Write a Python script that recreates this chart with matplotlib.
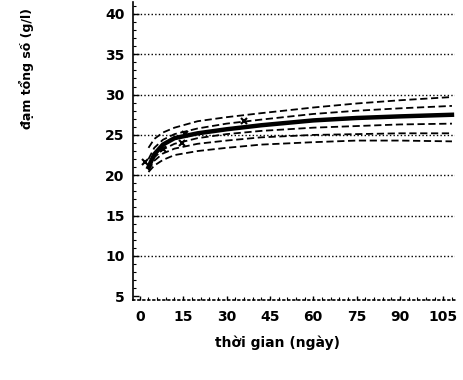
import numpy as np
import matplotlib
matplotlib.use("Agg")
import matplotlib.pyplot as plt
from matplotlib.ticker import MultipleLocator

days = [3, 5, 8, 12, 20, 30, 42, 60, 75, 90, 108]

# total protein (g/l) curves
mean_curve = [21.0, 22.6, 23.8, 24.6, 25.2, 25.7, 26.2, 26.8, 27.1, 27.3, 27.5]
upper_2 = [23.4, 24.5, 25.3, 25.9, 26.7, 27.2, 27.7, 28.4, 28.9, 29.3, 29.7]
upper_1 = [22.0, 23.4, 24.4, 25.1, 25.8, 26.4, 26.9, 27.6, 28.0, 28.3, 28.6]
lower_1 = [20.8, 22.2, 23.2, 23.9, 24.6, 25.1, 25.5, 25.9, 26.1, 26.3, 26.4]
lower_2 = [20.6, 21.8, 22.7, 23.3, 23.9, 24.3, 24.7, 25.0, 25.1, 25.2, 25.2]
lower_3 = [20.4, 21.2, 21.9, 22.5, 23.0, 23.4, 23.8, 24.1, 24.3, 24.3, 24.2]

# observed points
obs_x = [1.7, 8, 14.5, 15.6, 36]
obs_y = [21.7, 23.2, 24.0, 25.1, 26.7]

x_ticks = [0, 15, 30, 45, 60, 75, 90, 105]
y_ticks = [5, 10, 15, 20, 25, 30, 35, 40]

fig = plt.figure(figsize=(4.63, 3.8), dpi=100)
ax = fig.add_axes([0.287, 0.21, 0.696, 0.785])

# dotted horizontal grid
for yv in y_ticks[1:]:
    ax.axhline(yv, color="black", lw=1.0, ls=(0, (1, 1.6)), zorder=1)

ax.plot(days, upper_2, color="black", lw=1.3, ls=(0, (4, 2)))
ax.plot(days, upper_1, color="black", lw=1.3, ls=(0, (4, 2)))
ax.plot(days, mean_curve, color="black", lw=3.2, ls="-")
ax.plot(days, lower_1, color="black", lw=1.3, ls=(0, (4, 2)))
ax.plot(days, lower_2, color="black", lw=1.3, ls=(0, (4, 2)))
ax.plot(days, lower_3, color="black", lw=1.3, ls=(0, (4, 2)))
ax.plot(obs_x, obs_y, ls="none", marker="x", ms=4, mew=1.5, color="black")

ax.set_xlim(-2.4, 109.1)
ax.set_ylim(4.5, 41.5)
ax.set_xticks(x_ticks)
ax.set_yticks(y_ticks)
ax.yaxis.set_minor_locator(MultipleLocator(1))
ax.xaxis.set_minor_locator(MultipleLocator(3))

for s in ["top", "right"]:
    ax.spines[s].set_visible(False)
ax.spines["left"].set_linewidth(1.2)
ax.spines["bottom"].set_linestyle((0, (1, 2)))
ax.spines["bottom"].set_linewidth(1.2)

ax.tick_params(axis="y", which="major", direction="in", length=4, width=1.0,
               labelsize=10, pad=6)
ax.tick_params(axis="y", which="minor", direction="in", length=2.5, width=0.8)
ax.tick_params(axis="x", which="major", direction="in", length=3, width=1.0,
               labelsize=10, pad=7)
ax.tick_params(axis="x", which="minor", direction="in", length=2, width=0.8)
for lab in ax.get_xticklabels() + ax.get_yticklabels():
    lab.set_fontweight("bold")

fig.text(0.058, 0.82, "đạm tổng số (g/l)", rotation=90, ha="center",
         va="center", fontsize=9, fontweight="bold")
fig.text(0.6, 0.098, "thời gian (ngày)", ha="center", va="center",
         fontsize=10, fontweight="bold")

fig.savefig("out.png", dpi=100)
